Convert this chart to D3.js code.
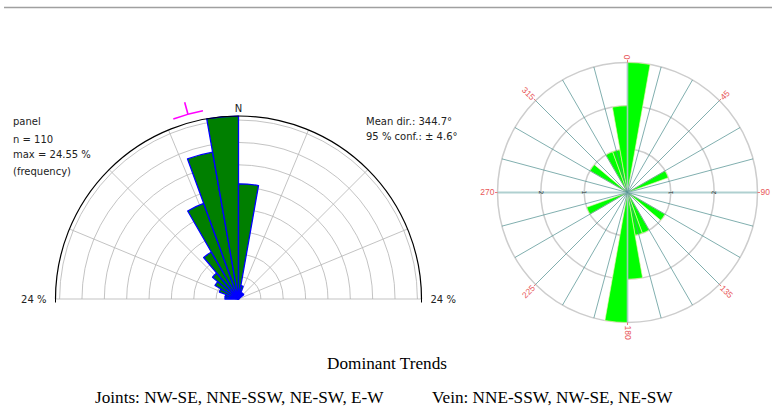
<!DOCTYPE html>
<meta charset="utf-8">
<style>
body { margin: 0; background: #fff; }
svg { display: block; }
.lbl { font-family: "DejaVu Sans", sans-serif; font-size: 10px; fill: #222; }
.deg { font-family: "Liberation Sans", Arial, sans-serif; font-size: 8.5px; fill: #e8585a; }
.trend { font-family: "Liberation Serif", "Times New Roman", serif; font-size: 17.2px; fill: #000; }
</style>
<body>
<svg width="772" height="415"></svg>
<script src="https://cdnjs.cloudflare.com/ajax/libs/d3/7.8.5/d3.min.js"></script>
<script>
// joints: 10 degree bins, north half only (start angle of each bin)
var jointBins = [270, 280, 290, 300, 310, 320, 330, 340, 350, 0, 10, 20, 30, 40, 50, 60, 70, 80];
var jointCounts = [2, 2, 3, 4, 5, 8, 15, 22, 27, 17, 2, 1, 1, 1, 0, 0, 0, 0];
var jointN = 110;
var jointMax = 24.55;
var jointRings = [3, 6, 9, 12, 15, 18, 21, 24];
var jointMean = 344.7;
var jointConf = 4.6;

// vein: axial data, 0-180 bins, mirrored onto 180-360
var veinBins = [0, 10, 20, 30, 40, 50, 60, 70, 80, 90, 100, 110, 120, 130, 140, 150, 160, 170];
var veinCounts = [3, 0, 0, 0, 0, 0, 1, 0, 0, 0, 0, 0, 1, 0, 0, 1, 1, 2];
var veinRings = [1, 2, 3];
var veinLabels = [0, 45, 90, 135, 180, 225, 270, 315];

var trendTitle = "Dominant Trends";
var trendJoints = "Joints: NW-SE, NNE-SSW, NE-SW, E-W";
var trendVein = "Vein: NNE-SSW, NW-SE, NE-SW";

var rad = Math.PI / 180;
var svg = d3.select("svg");

svg.append("line")
    .attr("x1", 4).attr("x2", 772)
    .attr("y1", 7.5).attr("y2", 7.5)
    .attr("stroke", "#a0a0a0")
    .attr("stroke-width", 1.5);

/********************************
 * LEFT: half rose of the joints
 ********************************/
var R1 = 183;
var rJ = d3.scaleLinear().domain([0, jointMax]).range([0, R1]);
var gL = svg.append("g").attr("transform", "translate(238.5,299)");

// compass degrees -> point
function pt(r, a) { return [r * Math.sin(a * rad), -r * Math.cos(a * rad)]; }

function halfArc(r, a0, a1) {
  var p = d3.path();
  var s = pt(r, a0);
  p.moveTo(s[0], s[1]);
  p.arc(0, 0, r, (a0 - 90) * rad, (a1 - 90) * rad);
  return p.toString();
}

gL.selectAll(".ring")
  .data(jointRings)
  .enter().append("path")
    .attr("d", function(d) { return halfArc(rJ(d), -90, 90); })
    .attr("fill", "none")
    .attr("stroke", "#b4b4b4")
    .attr("stroke-width", 0.8);

gL.selectAll(".spoke")
  .data(d3.range(-90, 90.1, 22.5))
  .enter().append("line")
    .attr("x1", 0).attr("y1", 0)
    .attr("x2", function(d) { return pt(R1, d)[0]; })
    .attr("y2", function(d) { return pt(R1, d)[1]; })
    .attr("stroke", "#b4b4b4")
    .attr("stroke-width", 0.8);

var jointData = jointBins.map(function(b, i) {
  return { a: b >= 180 ? b - 360 : b, pct: jointCounts[i] / jointN * 100 };
}).filter(function(d) { return d.pct > 0; });

var wedge = d3.arc()
    .innerRadius(0)
    .outerRadius(function(d) { return rJ(d.pct); })
    .startAngle(function(d) { return d.a * rad; })
    .endAngle(function(d) { return (d.a + 10) * rad; });

gL.selectAll(".bar")
  .data(jointData)
  .enter().append("path")
    .attr("d", wedge)
    .attr("fill", "#007f00")
    .attr("stroke", "#0000ff")
    .attr("stroke-width", 1.3)
    .attr("stroke-linejoin", "round");

gL.append("path")
    .attr("d", halfArc(R1, -90, 90))
    .attr("fill", "none")
    .attr("stroke", "#000")
    .attr("stroke-width", 1.2);

[-R1, R1].forEach(function(x) {
  gL.append("line")
      .attr("x1", x).attr("x2", x)
      .attr("y1", -3.5).attr("y2", 3.5)
      .attr("stroke", "#000")
      .attr("stroke-width", 1);
});

gL.append("text").attr("class", "lbl")
    .attr("x", -R1 - 9).attr("y", 3.5)
    .attr("text-anchor", "end")
    .text(jointRings[jointRings.length - 1] + " %");
gL.append("text").attr("class", "lbl")
    .attr("x", R1 + 9).attr("y", 3.5)
    .text(jointRings[jointRings.length - 1] + " %");
gL.append("text").attr("class", "lbl")
    .attr("x", 0).attr("y", -R1 - 4)
    .attr("text-anchor", "middle")
    .text("N");

// mean direction with confidence arc
gL.append("path")
    .attr("d", halfArc(R1 + 8.5, jointMean - jointConf, jointMean + jointConf))
    .attr("fill", "none")
    .attr("stroke", "#ff00ff")
    .attr("stroke-width", 1.6);
var m0 = pt(R1 + 8.5, jointMean), m1 = pt(R1 + 21, jointMean);
gL.append("line")
    .attr("x1", m0[0]).attr("y1", m0[1])
    .attr("x2", m1[0]).attr("y2", m1[1])
    .attr("stroke", "#ff00ff")
    .attr("stroke-width", 1.6);

var info = ["panel", "n = " + jointN, "max = " + jointMax.toFixed(2) + " %", "(frequency)"];
var infoY = [125, 143, 158, 175];
info.forEach(function(t, i) {
  svg.append("text").attr("class", "lbl").attr("x", 13).attr("y", infoY[i]).text(t);
});
svg.append("text").attr("class", "lbl").attr("x", 366).attr("y", 125)
    .text("Mean dir.: " + jointMean + "°");
svg.append("text").attr("class", "lbl").attr("x", 366).attr("y", 140)
    .text("95 % conf.: ± " + jointConf + "°");

/********************************
 * RIGHT: full rose of the vein
 ********************************/
var R2 = 130;
var rV = d3.scaleLinear().domain([0, 3]).range([0, R2]);
var gR = svg.append("g").attr("transform", "translate(627.5,192.5)");

gR.selectAll(".vring")
  .data(veinRings)
  .enter().append("circle")
    .attr("r", function(d) { return rV(d); })
    .attr("fill", "none")
    .attr("stroke", "#cdcdcd")
    .attr("stroke-width", 1.5);

var veinData = [];
veinBins.forEach(function(b, i) {
  if (veinCounts[i] > 0) {
    veinData.push({ a: b, c: veinCounts[i] });
    veinData.push({ a: b + 180, c: veinCounts[i] });
  }
});

var petal = d3.arc()
    .innerRadius(0)
    .outerRadius(function(d) { return rV(d.c); })
    .startAngle(function(d) { return d.a * rad; })
    .endAngle(function(d) { return (d.a + 10) * rad; });

gR.selectAll(".petal")
  .data(veinData)
  .enter().append("path")
    .attr("d", petal)
    .attr("fill", "#00ff00")
    .attr("stroke", "#f4f4b0")
    .attr("stroke-width", 0.6);

gR.selectAll(".vspoke")
  .data(d3.range(0, 360, 15))
  .enter().append("line")
    .attr("x1", 0).attr("y1", 0)
    .attr("x2", function(d) { return pt(R2, d)[0]; })
    .attr("y2", function(d) { return pt(R2, d)[1]; })
    .attr("stroke", function(d) { return d % 90 === 0 ? "#9cc4c4" : "#4f8f8f"; })
    .attr("stroke-width", function(d) { return d % 90 === 0 ? 1.8 : 0.9; })
    .attr("stroke-opacity", 0.8);

// ring values on the E-W axis
veinRings.slice(0, 2).forEach(function(v) {
  [-1, 1].forEach(function(s) {
    gR.append("text")
        .attr("transform", "translate(" + (s * rV(v)) + ",0) rotate(" + (s * -90) + ")")
        .attr("text-anchor", "middle")
        .attr("dy", "0.35em")
        .style("font", "6px 'DejaVu Sans', sans-serif")
        .style("fill", "#333")
        .text(v);
  });
});

veinLabels.forEach(function(a) {
  var t0 = pt(R2, a), t1 = pt(R2 + 2.5, a), p = pt(R2 + 3, a);
  var flip = a > 180;
  gR.append("line")
      .attr("x1", t0[0]).attr("y1", t0[1])
      .attr("x2", t1[0]).attr("y2", t1[1])
      .attr("stroke", "#e8585a")
      .attr("stroke-width", 0.8);
  gR.append("text").attr("class", "deg")
      .attr("transform", "translate(" + p[0] + "," + p[1] + ") rotate(" + (flip ? a - 270 : a - 90) + ")")
      .attr("text-anchor", flip ? "end" : "start")
      .attr("dy", "0.35em")
      .text(a);
});

/********************************
 * CAPTION
 ********************************/
svg.append("text").attr("class", "trend")
    .attr("x", 387).attr("y", 369)
    .attr("text-anchor", "middle")
    .text(trendTitle);
svg.append("text").attr("class", "trend").attr("x", 95).attr("y", 403).text(trendJoints);
svg.append("text").attr("class", "trend").attr("x", 432).attr("y", 403).text(trendVein);
</script>
</body>
